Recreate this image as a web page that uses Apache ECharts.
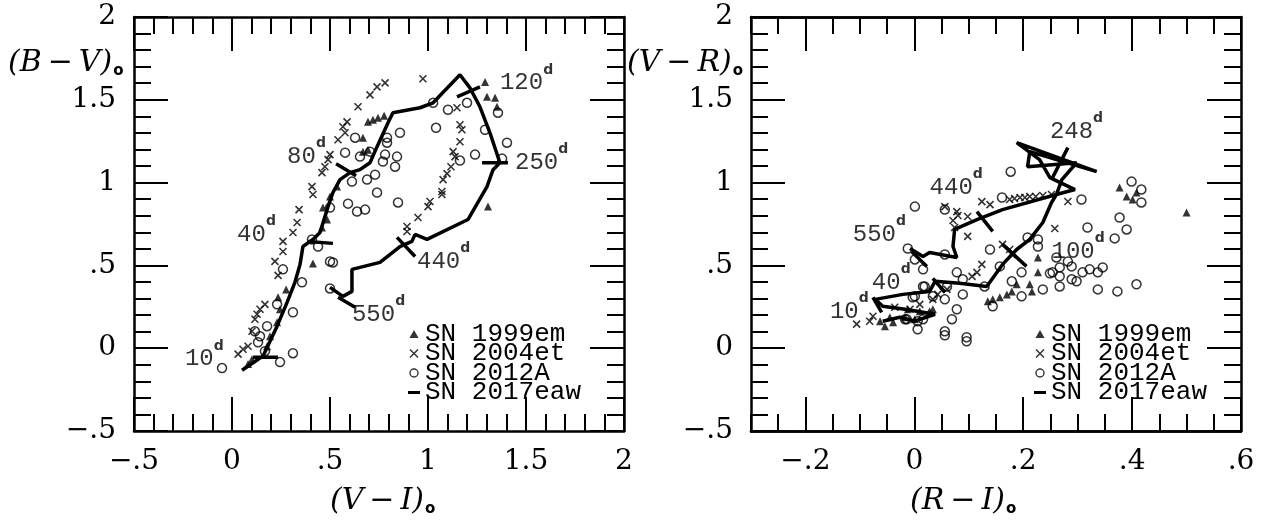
<!DOCTYPE html>
<html><head><meta charset="utf-8">
<script src="https://cdn.jsdelivr.net/npm/echarts@6/dist/echarts.min.js"></script>
<style>html,body{margin:0;padding:0;background:#fff}#c{width:1263px;height:522px}</style>
</head><body><div id="c"></div>
<script>
// ---------- LEFT PANEL: (V-I)o vs (B-V)o ----------
const left1999em = [[0.694,1.367],[0.719,1.380],[0.745,1.392],[0.776,1.404],[0.668,1.271],[0.668,1.187],[0.694,1.199],[0.536,0.976],[0.500,0.916],[0.464,0.849],[0.485,0.777],[0.459,0.729],[0.413,0.512],[0.276,0.355],[0.235,0.307],[0.245,0.235],[0.230,0.157],[0.194,0.072],[0.179,0.012],[0.102,-0.066],[0.082,-0.096],[1.291,1.608],[1.301,1.518],[1.342,1.512],[1.352,1.458],[1.306,0.855]];
const left2004et = [[0.781,1.602],[0.740,1.578],[0.704,1.530],[0.643,1.458],[0.587,1.367],[0.566,1.337],[0.577,1.301],[0.541,1.259],[0.500,1.169],[0.490,1.139],[0.474,1.096],[0.459,1.060],[0.408,0.976],[0.413,0.928],[0.342,0.837],[0.332,0.759],[0.311,0.699],[0.260,0.645],[0.260,0.584],[0.219,0.524],[0.235,0.440],[0.168,0.265],[0.143,0.235],[0.128,0.205],[0.117,0.175],[0.102,0.102],[0.082,0.012],[0.056,-0.006],[0.031,-0.036],[0.974,1.627],[1.148,1.452],[1.163,1.349],[1.173,1.319],[1.163,1.247],[1.128,1.187],[1.138,1.157],[1.117,1.096],[1.097,1.054],[1.077,1.018],[1.071,0.946],[1.071,0.928],[1.010,0.886],[1.000,0.855],[0.949,0.789],[0.893,0.735],[0.893,0.705]];
const left2012A = [[0.857,1.301],[0.791,1.271],[0.791,1.241],[0.628,1.271],[0.577,1.181],[0.653,1.157],[0.704,1.187],[0.781,1.169],[0.842,1.157],[0.832,1.096],[0.770,1.127],[0.730,1.048],[0.689,1.018],[0.612,1.006],[0.740,0.940],[0.592,0.873],[0.638,0.825],[0.679,0.837],[0.847,0.880],[0.500,0.849],[0.439,0.614],[0.408,0.657],[0.500,0.524],[0.515,0.518],[0.260,0.476],[0.357,0.398],[0.500,0.361],[0.230,0.265],[0.311,0.217],[0.179,0.133],[0.117,0.102],[0.143,0.072],[0.133,0.036],[0.168,-0.018],[0.311,-0.030],[0.245,-0.084],[-0.051,-0.120],[1.026,1.482],[1.102,1.440],[1.199,1.482],[1.357,1.422],[1.041,1.331],[1.291,1.319],[1.403,1.241],[1.240,1.169],[1.163,1.133],[1.378,1.145]];
const left2017eaw = [[0.051,-0.133],[0.158,-0.048],[0.230,0.133],[0.281,0.277],[0.321,0.398],[0.347,0.506],[0.362,0.614],[0.413,0.657],[0.449,0.699],[0.490,0.855],[0.515,0.940],[0.551,1.018],[0.602,1.060],[0.653,1.078],[0.704,1.120],[0.740,1.217],[0.796,1.361],[0.821,1.422],[0.959,1.452],[1.026,1.482],[1.163,1.651],[1.214,1.572],[1.265,1.458],[1.316,1.301],[1.367,1.120],[1.332,1.078],[1.301,0.976],[1.204,0.777],[0.995,0.657],[0.934,0.687],[0.918,0.645],[0.857,0.614],[0.755,0.518],[0.612,0.476],[0.612,0.343],[0.566,0.313],[0.500,0.367]];
const leftEpochTicks = [[[0.107,-0.054],[0.235,-0.054]],[[0.388,0.645],[0.515,0.633]],[[0.531,1.114],[0.633,1.042]],[[1.148,1.518],[1.265,1.578]],[[1.276,1.120],[1.408,1.120]],[[0.842,0.669],[0.934,0.554]],[[0.541,0.307],[0.628,0.247]]];
const leftEpochText = ['10','40','80','120','250','440','550'];
const leftEpochPos = [[-0.240,-0.066],[0.026,0.687],[0.281,1.157],[1.367,1.602],[1.444,1.120],[0.944,0.524],[0.612,0.205]];

// ---------- RIGHT PANEL: (R-I)o vs (V-R)o ----------
const right1999em = [[0.377,0.970],[0.390,0.916],[0.401,0.898],[0.408,0.940],[0.500,0.819],[0.227,0.548],[0.227,0.458],[0.212,0.386],[0.188,0.386],[0.179,0.343],[0.170,0.325],[0.157,0.307],[0.144,0.295],[0.135,0.283],[0.216,0.343],[-0.063,0.163],[-0.054,0.133],[-0.039,0.157],[-0.012,0.235],[0.010,0.223],[0.028,0.223],[0.034,0.235],[-0.017,0.187],[-0.045,0.187],[0.001,0.175]];
const right2004et = [[-0.106,0.145],[-0.082,0.163],[-0.076,0.193],[0.056,0.855],[0.078,0.825],[0.080,0.801],[0.098,0.795],[0.071,0.771],[0.074,0.729],[0.098,0.675],[0.124,0.885],[0.139,0.867],[0.175,0.898],[0.184,0.904],[0.194,0.910],[0.203,0.910],[0.212,0.916],[0.223,0.916],[0.236,0.922],[0.252,0.928],[0.282,0.886],[0.258,0.723],[0.124,0.506],[0.115,0.458],[0.106,0.434],[0.162,0.627],[0.175,0.596],[0.179,0.566],[0.060,0.355],[0.043,0.325],[0.034,0.295],[0.010,0.265],[-0.008,0.235],[-0.036,0.247]];
const right2012A = [[0.001,0.855],[0.056,0.837],[0.161,0.910],[0.177,1.066],[0.307,0.898],[0.399,1.006],[0.417,0.958],[0.417,0.880],[0.318,0.729],[0.377,0.789],[0.390,0.717],[0.368,0.663],[0.208,0.669],[0.227,0.657],[0.227,0.614],[0.139,0.596],[0.157,0.494],[0.078,0.458],[0.089,0.416],[0.129,0.373],[0.179,0.404],[0.197,0.458],[0.197,0.313],[0.236,0.355],[0.254,0.458],[0.267,0.488],[0.267,0.434],[0.267,0.373],[0.289,0.494],[0.289,0.416],[0.298,0.404],[0.309,0.458],[0.322,0.476],[0.337,0.458],[0.346,0.488],[0.337,0.355],[0.373,0.343],[0.408,0.386],[0.282,0.524],[0.261,0.548],[0.249,0.452],[0.060,0.373],[0.089,0.325],[0.056,0.295],[0.034,0.313],[0.019,0.373],[0.001,0.313],[-0.017,0.175],[0.006,0.163],[0.016,0.175],[0.006,0.114],[0.069,0.175],[0.078,0.235],[0.056,0.102],[0.056,0.078],[0.096,0.066],[0.096,0.042],[0.144,0.253],[0.001,0.536],[0.016,0.476],[0.016,0.373],[-0.012,0.602],[0.056,0.566],[-0.003,0.307],[-0.014,0.175]];
const right2017eaw = [[-0.058,0.163],[-0.027,0.187],[0.001,0.163],[0.038,0.205],[-0.017,0.235],[-0.058,0.253],[-0.072,0.295],[-0.021,0.325],[0.028,0.343],[0.038,0.404],[0.083,0.392],[0.133,0.373],[0.162,0.506],[0.188,0.596],[0.212,0.657],[0.236,0.759],[0.252,0.880],[0.261,0.928],[0.295,0.958],[0.249,1.030],[0.230,1.139],[0.188,1.241],[0.335,1.066],[0.212,1.187],[0.208,1.096],[0.298,1.120],[0.271,1.018],[0.261,0.928],[0.162,0.837],[0.115,0.777],[0.074,0.717],[0.071,0.614],[0.078,0.548],[0.028,0.578],[0.016,0.554],[-0.008,0.602]];
const rightEpochTicks = [[[-0.076,0.307],[-0.060,0.217]],[[0.034,0.422],[0.056,0.337]],[[0.162,0.627],[0.206,0.494]],[[0.282,1.211],[0.252,1.018]],[[0.115,0.825],[0.144,0.705]],[[-0.005,0.584],[0.023,0.494]]];
const rightEpochText = ['10','40','100','248','440','550'];
const rightEpochPos = [[-0.155,0.223],[-0.078,0.398],[0.252,0.584],[0.249,1.307],[0.028,0.970],[-0.113,0.687]];

// ---------- axes ticks ----------
const leftXRange = [-0.5, 2], leftYRange = [-0.5, 2];
const rightXRange = [-0.3, 0.6], rightYRange = [-0.5, 2];
const rightXMajor = [-0.2, 0, 0.2, 0.4, 0.6];
const legendNames = ['SN 1999em', 'SN 2004et', 'SN 2012A', 'SN 2017eaw'];

function fmt(v){
  v = Math.round(v*1000)/1000;
  if (v === 0) return '0';
  let s = String(Math.abs(v));
  if (s[0] === '0') s = s.slice(1);
  return (v < 0 ? '\u2212' : '') + s;
}
const BLACK = '#000';
const lineW = 2.5;
const labelStyle = {color: BLACK, fontFamily: 'DejaVu Serif', fontSize: 28};

function valAxis(extra){
  return Object.assign({
    type: 'value', splitLine: {show: false}, minorSplitLine: {show: false},
    axisLine: {show: true, onZero: false, lineStyle: {color: BLACK, width: lineW}},
    axisTick: {show: true, inside: true, length: 34, lineStyle: {color: BLACK, width: 2}},
    minorTick: {show: true, splitNumber: 5, length: 17, lineStyle: {color: BLACK, width: 2}},
    axisLabel: Object.assign({show: true, formatter: fmt, margin: 17}, labelStyle),
    z: 1
  }, extra);
}

const xAxis = [
  valAxis({gridIndex: 0, position: 'bottom', min: leftXRange[0], max: leftXRange[1], interval: 0.5}),
  valAxis({gridIndex: 0, position: 'top', min: leftXRange[0], max: leftXRange[1], interval: 0.5, axisLabel: {show: false}}),
  valAxis({gridIndex: 1, position: 'bottom', min: rightXRange[0], max: rightXRange[1], interval: 0.05, minorTick: {show: false},
           axisTick: {show: true, inside: true, length: 17, lineStyle: {color: BLACK, width: 2}}, axisLabel: {show: false}}),
  valAxis({gridIndex: 1, position: 'bottom', min: rightXRange[0], max: rightXRange[1], minorTick: {show: false},
           axisTick: {show: true, inside: true, length: 34, customValues: rightXMajor, lineStyle: {color: BLACK, width: 2}},
           axisLabel: Object.assign({show: true, formatter: fmt, margin: 17, customValues: rightXMajor}, labelStyle)}),
  valAxis({gridIndex: 1, position: 'top', min: rightXRange[0], max: rightXRange[1], interval: 0.05, minorTick: {show: false},
           axisTick: {show: true, inside: true, length: 17, lineStyle: {color: BLACK, width: 2}}, axisLabel: {show: false}}),
  valAxis({gridIndex: 1, position: 'top', min: rightXRange[0], max: rightXRange[1], minorTick: {show: false},
           axisTick: {show: true, inside: true, length: 34, customValues: rightXMajor, lineStyle: {color: BLACK, width: 2}},
           axisLabel: {show: false}})
];
const yAxis = [
  valAxis({gridIndex: 0, position: 'left', min: leftYRange[0], max: leftYRange[1], interval: 0.5, axisLabel: Object.assign({show: true, formatter: fmt, margin: 18}, labelStyle)}),
  valAxis({gridIndex: 0, position: 'right', min: leftYRange[0], max: leftYRange[1], interval: 0.5, axisLabel: {show: false}}),
  valAxis({gridIndex: 1, position: 'left', min: rightYRange[0], max: rightYRange[1], interval: 0.5, axisLabel: Object.assign({show: true, formatter: fmt, margin: 18}, labelStyle)}),
  valAxis({gridIndex: 1, position: 'right', min: rightYRange[0], max: rightYRange[1], interval: 0.5, axisLabel: {show: false}})
];

const triStyle = {symbol: 'triangle', symbolSize: [8, 8], itemStyle: {color: BLACK}};
const crossStyle = {symbol: 'path://M0,0L10,10M10,0L0,10', symbolSize: 7, itemStyle: {color: 'transparent', borderColor: BLACK, borderWidth: 1.6}};
const circStyle = {symbol: 'circle', symbolSize: 9, itemStyle: {color: 'transparent', borderColor: BLACK, borderWidth: 1.5}};

function scatter(name, data, xi, yi, st){
  return Object.assign({type: 'scatter', name, data, xAxisIndex: xi, yAxisIndex: yi, silent: true, z: 3}, st);
}
function track(name, data, xi, yi){
  return {type: 'line', name, data, xAxisIndex: xi, yAxisIndex: yi, symbol: 'none', showSymbol: false, silent: true,
          lineStyle: {color: BLACK, width: 3.5}, itemStyle: {color: BLACK}, z: 4};
}
function ticks(segs){
  const out = [];
  segs.forEach(s => { out.push(s[0], s[1], ['-', '-']); });
  return out;
}
function epochLabels(pos, text, xi, yi){
  return {type: 'scatter', name: 'epochs', data: pos, xAxisIndex: xi, yAxisIndex: yi, symbolSize: 0, silent: true, z: 6,
    label: {show: true, position: 'right', distance: 0, offset: [0, -4],
      formatter: p => '{n|' + text[p.dataIndex] + '}{d|d}',
      rich: {
        n: {fontFamily: 'Liberation Mono', fontSize: 24, color: BLACK, lineHeight: 32, verticalAlign: 'bottom'},
        d: {fontFamily: 'DejaVu Sans', fontWeight: 'bold', fontSize: 14, color: BLACK, lineHeight: 16, verticalAlign: 'top'}
      }}};
}

const series = [
  scatter('SN 1999em', left1999em, 0, 0, triStyle),
  scatter('SN 2004et', left2004et, 0, 0, crossStyle),
  scatter('SN 2012A', left2012A, 0, 0, circStyle),
  track('SN 2017eaw', left2017eaw, 0, 0),
  track('epoch ticks L', ticks(leftEpochTicks), 0, 0),
  epochLabels(leftEpochPos, leftEpochText, 0, 0),
  scatter('SN 1999em', right1999em, 2, 2, triStyle),
  scatter('SN 2004et', right2004et, 2, 2, crossStyle),
  scatter('SN 2012A', right2012A, 2, 2, circStyle),
  track('SN 2017eaw', right2017eaw, 2, 2),
  track('epoch ticks R', ticks(rightEpochTicks), 2, 2),
  epochLabels(rightEpochPos, rightEpochText, 2, 2)
];

function legendAt(left){
  return {
    left, top: 321, orient: 'vertical', itemGap: -6.5, itemWidth: 12, itemHeight: 8, selectedMode: false, padding: 0,
    textStyle: {fontFamily: 'Liberation Mono', fontSize: 26, lineHeight: 20, color: BLACK},
    data: [
      {name: legendNames[0], icon: 'path://M4,0L8,7L0,7Z', itemStyle: {color: BLACK, borderWidth: 0}},
      {name: legendNames[1], icon: 'path://M0,0L10,10M10,0L0,10', itemStyle: {color: 'transparent', borderColor: BLACK, borderWidth: 1.5}},
      {name: legendNames[2], icon: 'path://M8,4A4,4,0,1,1,0,4A4,4,0,1,1,8,4Z', itemStyle: {color: 'transparent', borderColor: BLACK, borderWidth: 1.4}},
      {name: legendNames[3], icon: 'path://M0,0H12V3H0Z', itemStyle: {color: BLACK, borderWidth: 0}}
    ]
  };
}

function title(x, y, main){
  return {type: 'text', x, y, style: {
    text: '{a|' + main + '}{b|o}', verticalAlign: 'middle', align: 'left',
    rich: {
      a: {fill: BLACK, fontFamily: 'DejaVu Serif', fontStyle: 'italic', fontSize: 30, lineHeight: 36, verticalAlign: 'middle'},
      b: {fill: BLACK, fontFamily: 'DejaVu Sans', fontWeight: 'bold', fontSize: 15, lineHeight: 14, verticalAlign: 'bottom', padding: [0, 0, 2, 1]}
    }}};
}

const option = {
  animation: false,
  backgroundColor: '#fff',
  grid: [
    {left: 134, top: 17, width: 490, height: 414},
    {left: 751, top: 17, width: 490, height: 414}
  ],
  xAxis, yAxis, series,
  legend: [legendAt(408), legendAt(1034)],
  graphic: [
    title(8, 63, '(B\u2009\u2212\u2009V)'),
    title(627, 63, '(V\u2009\u2212\u2009R)'),
    title(330, 501, '(V\u2009\u2212\u2009I)'),
    title(910, 501, '(R\u2009\u2212\u2009I)')
  ]
};
const chart = echarts.init(document.getElementById('c'));
chart.setOption(option);
</script>
</body></html>
